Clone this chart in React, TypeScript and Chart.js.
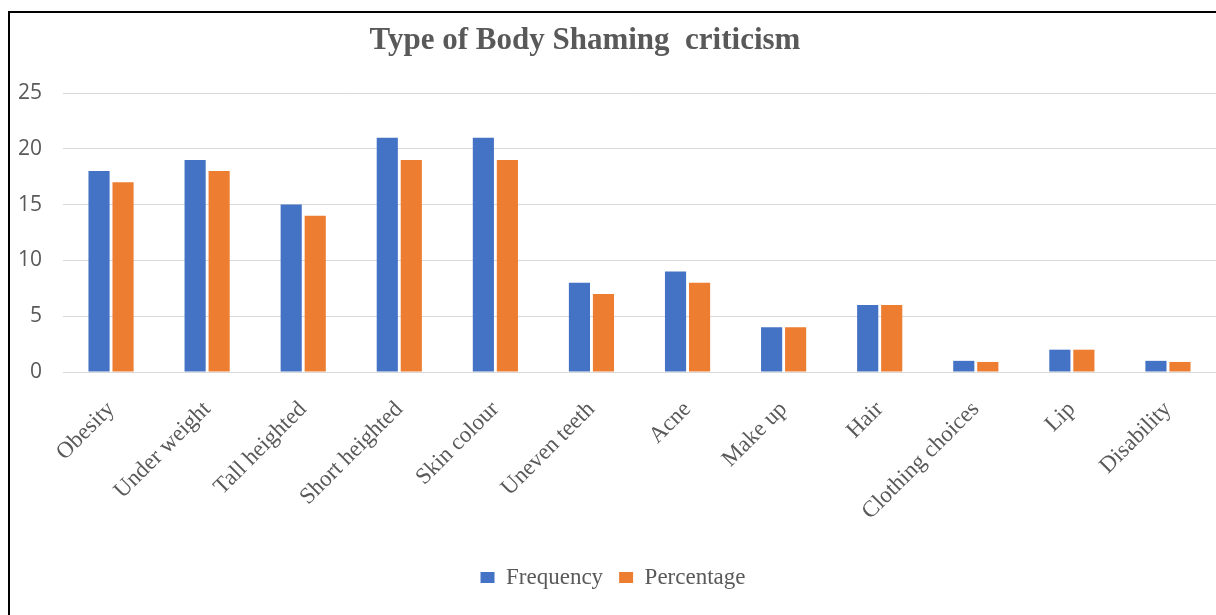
import React, { useEffect, useRef } from "react";
import { Chart, registerables } from "chart.js";

Chart.register(...registerables);

const categories = [
  "Obesity",
  "Under weight",
  "Tall heighted",
  "Short heighted",
  "Skin colour",
  "Uneven teeth",
  "Acne",
  "Make up",
  "Hair",
  "Clothing choices",
  "Lip",
  "Disability",
];
const frequency = [18, 19, 15, 21, 21, 8, 9, 4, 6, 1, 2, 1];
const percentage = [17, 18, 14, 19, 19, 7, 8, 4, 6, 0.9, 2, 0.9];
const titleText = "Type of Body Shaming  criticism";

const GRAY = "#595959";
const SERIF = "'Liberation Serif', 'Times New Roman', serif";

const titlePlugin = {
  id: "customTitle",
  afterDraw(chart: any) {
    const ctx = chart.ctx;
    ctx.save();
    ctx.font = `bold 31px ${SERIF}`;
    ctx.fillStyle = GRAY;
    ctx.textAlign = "center";
    ctx.textBaseline = "middle";
    ctx.fillText(titleText, 585, 41);
    ctx.restore();
  },
};

export default function App() {
  const ref = useRef<HTMLCanvasElement | null>(null);

  useEffect(() => {
    if (!ref.current) return;
    const chart = new Chart(ref.current, {
      type: "bar",
      data: {
        labels: categories,
        datasets: [
          {
            label: "Frequency",
            data: frequency,
            backgroundColor: "#4472C4",
            categoryPercentage: 0.5,
            barPercentage: 0.88,
          },
          {
            label: "Percentage",
            data: percentage,
            backgroundColor: "#ED7D31",
            categoryPercentage: 0.5,
            barPercentage: 0.88,
          },
        ],
      },
      options: {
        responsive: false,
        animation: false,
        layout: { padding: { left: 10, right: 0, top: 93, bottom: 16 } },
        plugins: {
          title: { display: false },
          tooltip: { enabled: false },
          legend: {
            position: "bottom",
            labels: {
              boxWidth: 14,
              boxHeight: 11,
              padding: 16,
              color: GRAY,
              font: { family: SERIF, size: 23 },
            },
          },
        },
        scales: {
          x: {
            grid: { display: false },
            border: { display: false },
            ticks: {
              autoSkip: false,
              maxRotation: 45,
              minRotation: 45,
              padding: 16,
              color: GRAY,
              font: { family: SERIF, size: 23 },
            },
            afterFit: (scale: any) => {
              scale.height = 178;
            },
          },
          y: {
            min: 0,
            max: 25,
            ticks: {
              stepSize: 5,
              padding: 21,
              color: GRAY,
              font: { family: "'Open Sans', 'Liberation Sans', sans-serif", size: 21 },
            },
            grid: { color: "#d9d9d9", lineWidth: 1, drawTicks: false },
            border: { display: false },
            afterFit: (scale: any) => {
              scale.width = 53;
            },
          },
        },
      },
      plugins: [titlePlugin],
    });
    return () => chart.destroy();
  }, []);

  return (
    <>
      <div
        style={{
          position: "absolute",
          left: 0,
          top: 0,
          width: 1216,
          height: 615,
          overflow: "hidden",
          background: "#ffffff",
        }}
      >
        <canvas ref={ref} width={1216} height={615} style={{ display: "block" }} />
        <div
          style={{
            position: "absolute",
            left: 8,
            top: 11,
            width: 1300,
            height: 700,
            borderTop: "2px solid #000",
            borderLeft: "2px solid #000",
            pointerEvents: "none",
          }}
        />
      </div>
    </>
  );
}
